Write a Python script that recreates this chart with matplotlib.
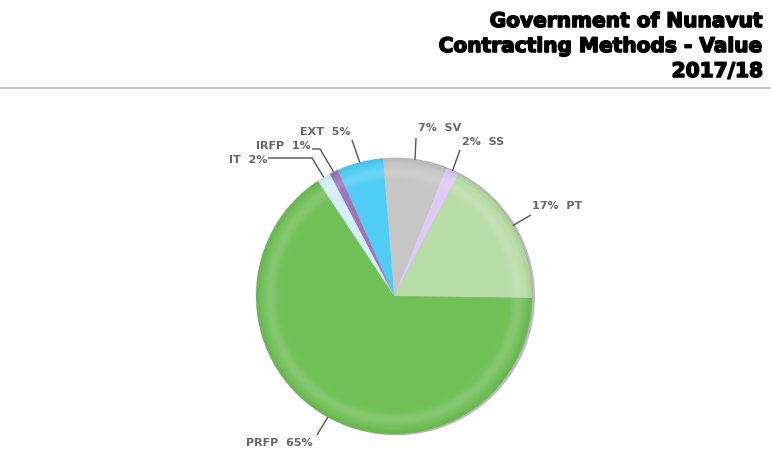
import matplotlib
matplotlib.use("Agg")
import matplotlib.pyplot as plt
import matplotlib.patheffects as pe
import numpy as np
from matplotlib.patches import Wedge, Circle

# ---- data ----
categories = ["PT", "SS", "SV", "EXT", "IRFP", "IT", "PRFP"]
values = [17.4, 1.6, 7.4, 5.4, 1.0, 1.6, 65.2]
colors = ["#B9DDA6", "#DCCBF2", "#C6C6C6", "#50CDF5", "#9B74B9", "#D6EEFB", "#70C057"]
title_lines = ["Government of Nunavut", "Contracting Methods - Value", "2017/18"]

# ---- label layout (pixel positions) ----
label_layout = {
    "PT":   dict(xy=(532, 206), ha="left",  order="pc", start=(531, 215), elbow=None),
    "SS":   dict(xy=(462, 142), ha="left",  order="pc", start=(460, 150), elbow=None),
    "SV":   dict(xy=(418, 128), ha="left",  order="pc", start=(416, 138), elbow=None),
    "EXT":  dict(xy=(350, 132), ha="right", order="cp", start=(352, 140), elbow=None),
    "IRFP": dict(xy=(311, 146), ha="right", order="cp", start=(312, 149), elbow=(320, 149)),
    "IT":   dict(xy=(267, 160), ha="right", order="cp", start=(268, 158), elbow=(312, 158)),
    "PRFP": dict(xy=(313, 443), ha="right", order="cp", start=(317, 435), elbow=None),
}

W, H = 771, 450
fig = plt.figure(figsize=(W / 100, H / 100), dpi=100)
ax = fig.add_axes([0, 0, 1, 1])

cx, cy, R = 394, 296, 138

# shadow (right side)
ax.add_patch(Circle((cx + 2.2, cy + 0.5), R + 0.8, color="#8f8f8f", alpha=0.6, zorder=1, lw=0))

wedges, _ = ax.pie(values, colors=colors, startangle=0.8, counterclock=False,
                   center=(cx, cy), radius=R,
                   wedgeprops=dict(linewidth=0, edgecolor="none"))
for w in wedges:
    w.set_zorder(2)

# radial light ring overlay
rs = np.linspace(0.70, 1.0, 80)
dr = rs[1] - rs[0]
for r in rs:
    a = 0.16 * np.exp(-((r - 0.895) / 0.045) ** 2)
    if a > 0.005:
        ax.add_patch(Wedge((cx, cy), (r + dr) * R, 0, 360, width=dr * R * 1.05,
                           color="white", alpha=a, lw=0, zorder=3))
for r in np.linspace(0.965, 1.0, 6):
    ax.add_patch(Wedge((cx, cy), (r + 0.007) * R, 0, 360, width=0.008 * R,
                       color="black", alpha=0.015 + 0.04 * (r - 0.965) / 0.035, lw=0, zorder=3))

# labels
total = sum(values)
for w, cat, v in zip(wedges, categories, values):
    lay = label_layout[cat]
    mid = np.deg2rad((w.theta1 + w.theta2) / 2)
    ax_pt = (cx + R * np.cos(mid), cy + R * np.sin(mid))
    pct = f"{round(v / total * 100)}%"
    txt = f"{pct}  {cat}" if lay["order"] == "pc" else f"{cat}  {pct}"
    ax.text(lay["xy"][0], lay["xy"][1], txt, ha=lay["ha"], va="center",
            fontsize=8, fontweight="bold", color="#666666",
            family="DejaVu Sans", zorder=5)
    pts = [lay["start"]]
    if lay["elbow"] is not None:
        pts.append(lay["elbow"])
    pts.append(ax_pt)
    xs, ys = zip(*pts)
    ax.plot(xs, ys, color="#555555", lw=1.0, zorder=4, solid_capstyle="butt")

# title
baselines = [27, 52, 77]
for line, yb in zip(title_lines, baselines):
    ax.text(763, yb, line, ha="right", va="baseline", fontsize=14.5,
            fontweight="heavy", family="DejaVu Sans", color="black",
            path_effects=[pe.withStroke(linewidth=1.1, foreground="black")])
ax.plot([0, W], [87.5, 87.5], color="#cccccc", lw=1.5)

ax.set_xlim(0, W)
ax.set_ylim(H, 0)
ax.set_aspect("auto")
ax.axis("off")
fig.savefig("out.png", dpi=100)
